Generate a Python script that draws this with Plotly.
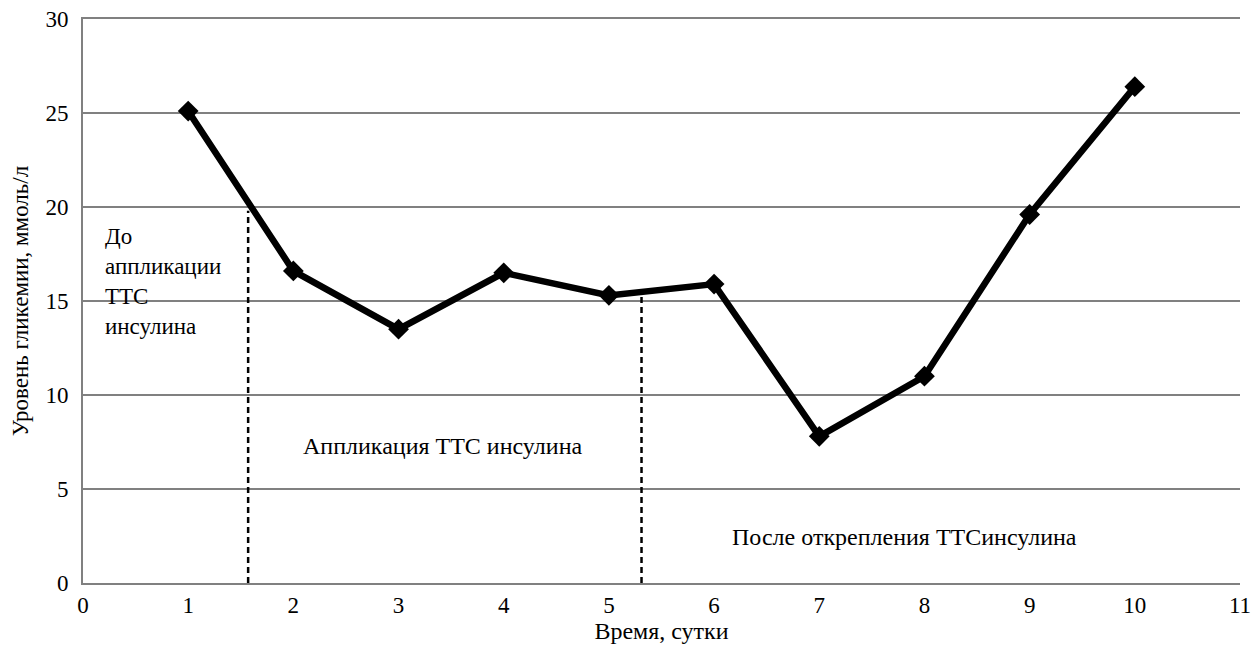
import plotly.graph_objects as go

days = [1, 2, 3, 4, 5, 6, 7, 8, 9, 10]
glucose = [25.1, 16.6, 13.5, 16.5, 15.3, 15.9, 7.8, 11.0, 19.6, 26.4]

# phase boundaries (x position, height where dashed line meets the curve)
boundary_x = [1.57, 5.31]
boundary_top = [19.8, 15.5]

phase_labels = ["До<br>аппликации<br>ТТС<br>инсулина", "Аппликация ТТС инсулина", "После открепления ТТСинсулина"]
phase_label_x = [0.19, 3.42, 7.81]
phase_label_y = [19.2, 7.3, 2.45]

x_ticks = list(range(0, 12))
y_ticks = [0, 5, 10, 15, 20, 25, 30]

FONT = "Times New Roman, Liberation Serif, Tinos, serif"
FS = 23
AFS = 24

fig = go.Figure()

for bx, bt in zip(boundary_x, boundary_top):
    fig.add_trace(go.Scatter(x=[bx, bx], y=[0, bt], mode="lines",
                             line=dict(color="black", width=2.5, dash="6px,4px"),
                             showlegend=False, hoverinfo="skip"))

fig.add_trace(go.Scatter(x=days, y=glucose, mode="lines+markers",
                         line=dict(color="black", width=6.5),
                         marker=dict(symbol="diamond", size=16, color="black"),
                         showlegend=False))

fig.add_annotation(x=phase_label_x[0], y=phase_label_y[0], text=phase_labels[0],
                   showarrow=False, xanchor="left", yanchor="top", align="left",
                   font=dict(size=FS, color="black", family=FONT))
fig.add_annotation(x=phase_label_x[1], y=phase_label_y[1], text=phase_labels[1],
                   showarrow=False, xanchor="center", yanchor="middle",
                   font=dict(size=AFS, color="black", family=FONT))
fig.add_annotation(x=phase_label_x[2], y=phase_label_y[2], text=phase_labels[2],
                   showarrow=False, xanchor="center", yanchor="middle",
                   font=dict(size=AFS, color="black", family=FONT))

# page body has an 8px margin; figure is sized to fit the window
fig.update_layout(
    width=1252, height=638,
    margin=dict(l=75, r=20, t=11, b=63),
    plot_bgcolor="white", paper_bgcolor="white",
    font=dict(family=FONT, size=FS, color="black"),
    xaxis=dict(range=[0, 11], tickvals=x_ticks, showgrid=False, zeroline=False,
               showline=True, mirror=True, linecolor="#808080", linewidth=2, ticks="",
               automargin=False, ticklabelstandoff=0, ticklabeloverflow="allow",
               title=dict(text="Время, сутки", font=dict(size=AFS, family=FONT), standoff=2),
               tickfont=dict(size=FS, family=FONT)),
    yaxis=dict(range=[0, 30], tickvals=y_ticks, showgrid=True, gridcolor="#808080",
               gridwidth=2, zeroline=False, showline=True, linecolor="#808080",
               linewidth=2, ticks="", automargin=False, ticklabelstandoff=8,
               ticklabeloverflow="allow",
               title=dict(text="Уровень гликемии, ммоль/л", font=dict(size=FS, family=FONT), standoff=12),
               tickfont=dict(size=FS, family=FONT)),
)

fig.write_html("out.html")
